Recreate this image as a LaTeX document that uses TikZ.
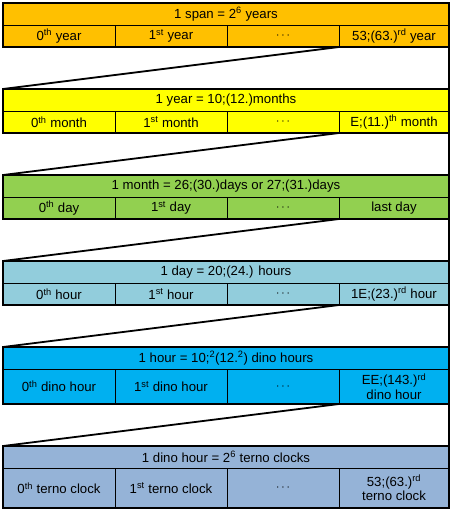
\documentclass[tikz,border=0pt]{standalone}
\usepackage{fontspec}
\setmainfont{Liberation Sans}
\usetikzlibrary{positioning}

\definecolor{spanfill}{HTML}{FFC000}
\definecolor{yearfill}{HTML}{FFFF00}
\definecolor{monthfill}{HTML}{92D050}
\definecolor{dayfill}{HTML}{92CDDC}
\definecolor{hourfill}{HTML}{00B0F0}
\definecolor{dinofill}{HTML}{95B3D7}

\tikzset{
  band/.style={draw=black, line width=0.8pt, minimum width=446pt, minimum height=22pt,
    inner sep=0pt, outer sep=0pt, anchor=north west},
  cell/.style={draw=black, line width=0.8pt, minimum width=112pt, minimum height=#1,
    inner sep=0pt, outer sep=0pt, align=center},
  cell/.default=22pt,
  lastcell/.style={cell=#1, minimum width=110pt},
  lastcell/.default=22pt,
  frame/.style={draw=black, line width=2.2pt},
  zoomline/.style={draw=black, line width=1.8pt},
}

\begin{document}
\begin{tikzpicture}[x=1pt, y=-1pt, font=\fontsize{13.2}{14.5}\selectfont]
\useasboundingbox (0,0) rectangle (454,511);

% span
\node[band, fill=spanfill] (span) at (3,3) {1 span = 2\textsuperscript{6} years};
\node[cell, fill=spanfill, below right=0pt and 0pt of span.south west] (year0) {0\textsuperscript{th} year};
\node[cell, fill=spanfill, right=0pt of year0] (year1) {1\textsuperscript{st} year};
\node[cell, fill=spanfill, right=0pt of year1] (year2) {$\cdots$};
\node[lastcell, fill=spanfill, right=0pt of year2] (year3) {53;(63.)\textsuperscript{rd} year};
\draw[frame] (span.north west) rectangle (year3.south east);

% year
\node[band, fill=yearfill, below right=42pt and 0pt of year0.south west] (year) {1 year = 10;(12.)months};
\node[cell, fill=yearfill, below right=0pt and 0pt of year.south west] (month0) {0\textsuperscript{th} month};
\node[cell, fill=yearfill, right=0pt of month0] (month1) {1\textsuperscript{st} month};
\node[cell, fill=yearfill, right=0pt of month1] (month2) {$\cdots$};
\node[lastcell, fill=yearfill, right=0pt of month2] (month3) {E;(11.)\textsuperscript{th} month};
\draw[frame] (year.north west) rectangle (month3.south east);

% month
\node[band, fill=monthfill, below right=42pt and 0pt of month0.south west] (month) {1 month = 26;(30.)days or 27;(31.)days};
\node[cell, fill=monthfill, below right=0pt and 0pt of month.south west] (day0) {0\textsuperscript{th} day};
\node[cell, fill=monthfill, right=0pt of day0] (day1) {1\textsuperscript{st} day};
\node[cell, fill=monthfill, right=0pt of day1] (day2) {$\cdots$};
\node[lastcell, fill=monthfill, right=0pt of day2] (day3) {last day};
\draw[frame] (month.north west) rectangle (day3.south east);

% day
\node[band, fill=dayfill, below right=42pt and 0pt of day0.south west] (day) {1 day = 20;(24.) hours};
\node[cell, fill=dayfill, below right=0pt and 0pt of day.south west] (hour0) {0\textsuperscript{th} hour};
\node[cell, fill=dayfill, right=0pt of hour0] (hour1) {1\textsuperscript{st} hour};
\node[cell, fill=dayfill, right=0pt of hour1] (hour2) {$\cdots$};
\node[lastcell, fill=dayfill, right=0pt of hour2] (hour3) {1E;(23.)\textsuperscript{rd} hour};
\draw[frame] (day.north west) rectangle (hour3.south east);

% hour
\node[band, fill=hourfill, below right=42pt and 0pt of hour0.south west] (hour) {1 hour = 10;\textsuperscript{2}(12.\textsuperscript{2}) dino hours};
\node[cell=35pt, fill=hourfill, below right=0pt and 0pt of hour.south west] (dino0) {0\textsuperscript{th} dino hour};
\node[cell=35pt, fill=hourfill, right=0pt of dino0] (dino1) {1\textsuperscript{st} dino hour};
\node[cell=35pt, fill=hourfill, right=0pt of dino1] (dino2) {$\cdots$};
\node[lastcell=35pt, fill=hourfill, right=0pt of dino2] (dino3) {EE;(143.)\textsuperscript{rd}\\dino hour};
\draw[frame] (hour.north west) rectangle (dino3.south east);

% dino hour
\node[band, fill=dinofill, below right=42pt and 0pt of dino0.south west] (dino) {1 dino hour = 2\textsuperscript{6} terno clocks};
\node[cell=40pt, fill=dinofill, below right=0pt and 0pt of dino.south west] (terno0) {0\textsuperscript{th} terno clock};
\node[cell=40pt, fill=dinofill, right=0pt of terno0] (terno1) {1\textsuperscript{st} terno clock};
\node[cell=40pt, fill=dinofill, right=0pt of terno1] (terno2) {$\cdots$};
\node[lastcell=40pt, fill=dinofill, right=0pt of terno2] (terno3) {53;(63.)\textsuperscript{rd}\\terno clock};
\draw[frame] (dino.north west) rectangle (terno3.south east);

% zoom lines
\draw[zoomline] (year3.south west) -- (year.north west);
\draw[zoomline] (year3.south east) -- (year.north east);
\draw[zoomline] (month3.south west) -- (month.north west);
\draw[zoomline] (month3.south east) -- (month.north east);
\draw[zoomline] (day3.south west) -- (day.north west);
\draw[zoomline] (day3.south east) -- (day.north east);
\draw[zoomline] (hour3.south west) -- (hour.north west);
\draw[zoomline] (hour3.south east) -- (hour.north east);
\draw[zoomline] (dino3.south west) -- (dino.north west);
\draw[zoomline] (dino3.south east) -- (dino.north east);

\end{tikzpicture}
\end{document}
